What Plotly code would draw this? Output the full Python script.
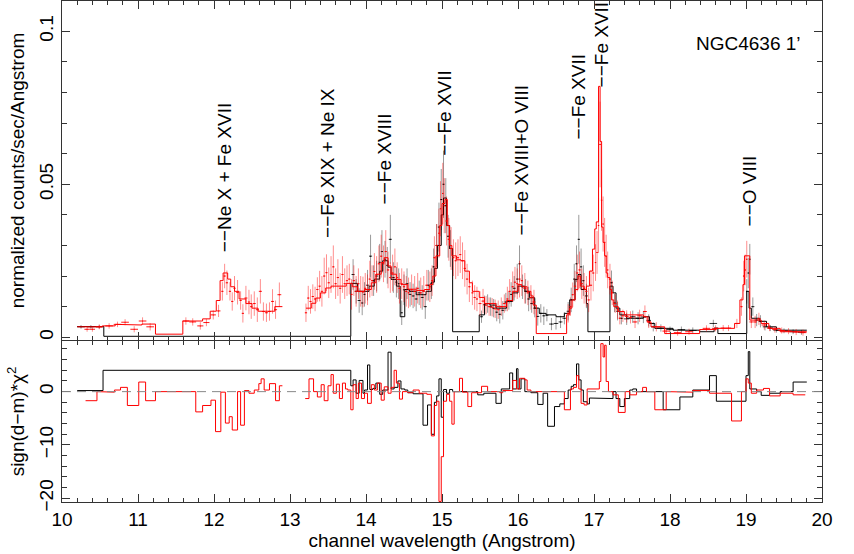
import plotly.graph_objects as go
from plotly.subplots import make_subplots

# ---- black spectrum: data points (wavelength, counts, error) ----
black_x = [10.25, 10.38, 10.49,
           13.83, 13.87, 13.91, 13.95, 13.98, 14.02, 14.06, 14.10, 14.14, 14.18,
           14.21, 14.25, 14.28, 14.32, 14.36, 14.40, 14.43, 14.47, 14.50, 14.54,
           14.58, 14.62, 14.66, 14.70, 14.74, 14.78, 14.82, 14.86, 14.89, 14.93,
           14.96, 14.99, 15.02, 15.05, 15.08, 15.11,
           15.52, 15.56, 15.60, 15.64, 15.68, 15.72, 15.76, 15.80, 15.84, 15.88,
           15.91, 15.95, 15.99, 16.02, 16.06, 16.10, 16.14, 16.18, 16.22, 16.26,
           16.30, 16.34, 16.38, 16.44, 16.50, 16.56, 16.61, 16.66, 16.70, 16.74,
           16.77, 16.80, 16.83, 16.86, 16.90,
           17.23, 17.27, 17.31, 17.36, 17.43, 17.51, 17.58, 17.65, 17.72, 17.78,
           17.88, 18.00, 18.15, 18.30, 18.57,
           19.01, 19.03, 19.05, 19.09, 19.14, 19.19, 19.25, 19.32, 19.40, 19.50,
           19.62, 19.73]
black_y = [0.0034, 0.0034, 0.0034,
           0.0205, 0.0150, 0.0120, 0.0112, 0.0140, 0.0170, 0.0265, 0.0185, 0.0200, 0.0245,
           0.0280, 0.0255, 0.0235, 0.0320, 0.0195, 0.0180, 0.0175, 0.0080, 0.0155, 0.0175,
           0.0140, 0.0135, 0.0125, 0.0145, 0.0130, 0.0100, 0.0170, 0.0175, 0.0230, 0.0300,
           0.0360, 0.0450, 0.0500, 0.0430, 0.0330, 0.0290,
           0.0067, 0.0106, 0.0110, 0.0100, 0.0095, 0.0082, 0.0075, 0.0088, 0.0115, 0.0120,
           0.0140, 0.0160, 0.0190, 0.0240, 0.0165, 0.0150, 0.0125, 0.0110, 0.0095, 0.0068,
           0.0078, 0.0070, 0.0072, 0.0043, 0.0045, 0.0050, 0.0062, 0.0085, 0.0122, 0.0190,
           0.0240, 0.0320, 0.0230, 0.0185, 0.0135,
           0.0178, 0.0112, 0.0085, 0.0062, 0.0060, 0.0067, 0.0062, 0.0066, 0.0055, 0.0034,
           0.0030, 0.0025, 0.0025, 0.0022, 0.0045,
           0.0150, 0.0210, 0.0255, 0.0100, 0.0056, 0.0052, 0.0034, 0.0030, 0.0023, 0.0021,
           0.0018, 0.0016]
black_err = [0.0006, 0.0006, 0.0006,
             0.005, 0.004, 0.004, 0.004, 0.004, 0.005, 0.007, 0.005, 0.005, 0.006,
             0.007, 0.006, 0.006, 0.008, 0.005, 0.005, 0.005, 0.004, 0.005, 0.005,
             0.004, 0.004, 0.004, 0.004, 0.004, 0.004, 0.005, 0.005, 0.006, 0.007,
             0.008, 0.010, 0.011, 0.009, 0.007, 0.006,
             0.002, 0.003, 0.003, 0.003, 0.003, 0.003, 0.003, 0.003, 0.003, 0.003,
             0.004, 0.004, 0.005, 0.006, 0.004, 0.004, 0.004, 0.003, 0.003, 0.003,
             0.003, 0.003, 0.002, 0.002, 0.002, 0.002, 0.002, 0.003, 0.004, 0.005,
             0.006, 0.008, 0.006, 0.005, 0.004,
             0.004, 0.003, 0.003, 0.002, 0.002, 0.002, 0.002, 0.002, 0.002, 0.0015,
             0.0012, 0.0010, 0.0010, 0.0010, 0.0012,
             0.004, 0.005, 0.005, 0.003, 0.002, 0.002, 0.0012, 0.0010, 0.0008, 0.0008,
             0.0008, 0.0008]

# ---- red spectrum: data points ----
red_x = [10.33, 10.40, 10.49, 10.62, 10.73, 10.83, 10.95, 11.06, 11.16,
         11.63, 11.72, 11.82, 11.90, 11.99, 12.06, 12.11, 12.14, 12.17, 12.21,
         12.24, 12.27, 12.31, 12.35, 12.38, 12.42, 12.46, 12.49, 12.53, 12.57,
         12.61, 12.65, 12.69, 12.73, 12.77, 12.81, 12.86,
         13.21, 13.24, 13.27, 13.30, 13.33, 13.36, 13.39, 13.42, 13.45, 13.48,
         13.51, 13.54, 13.57, 13.60, 13.63, 13.66, 13.69, 13.72, 13.75, 13.78,
         13.81, 13.84, 13.87, 13.90, 13.93, 13.96, 13.99, 14.02, 14.05, 14.08,
         14.11, 14.14, 14.17, 14.20, 14.23, 14.26, 14.29, 14.32, 14.35, 14.38,
         14.41, 14.44, 14.47, 14.50, 14.53, 14.56, 14.60, 14.64, 14.68, 14.72,
         14.76, 14.80, 14.84, 14.87, 14.90, 14.93, 14.96, 14.98, 15.01, 15.03,
         15.06, 15.09, 15.12, 15.15, 15.18, 15.21, 15.24, 15.27, 15.30, 15.33,
         15.36, 15.40, 15.43, 15.46, 15.50, 15.54, 15.58, 15.62, 15.66, 15.70,
         15.74, 15.78, 15.82, 15.86, 15.89, 15.93, 15.96, 15.99, 16.02, 16.05,
         16.09, 16.13, 16.17, 16.21,
         16.66, 16.69, 16.72, 16.75, 16.78, 16.81, 16.84, 16.87, 16.90, 16.93,
         16.96, 16.99, 17.02, 17.04, 17.06, 17.08, 17.10, 17.12, 17.14, 17.16,
         17.18, 17.21, 17.24, 17.28, 17.31, 17.34, 17.38, 17.43, 17.48, 17.54,
         17.60, 17.67, 17.72, 17.82, 17.95, 18.10, 18.25, 18.48, 18.60, 18.70,
         18.77, 18.88, 18.94, 18.97, 18.99, 19.01, 19.07, 19.12, 19.17, 19.24,
         19.31, 19.38, 19.47, 19.56, 19.66, 19.75]
red_y = [0.0026, 0.0026, 0.0034, 0.0037, 0.0042, 0.0049, 0.0026, 0.0053, 0.0034,
         0.0053, 0.0050, 0.0037, 0.0048, 0.0073, 0.0086, 0.0150, 0.0200, 0.0178, 0.0150,
         0.0117, 0.0160, 0.0147, 0.0120, 0.0078, 0.0128, 0.0115, 0.0100, 0.0110, 0.0090,
         0.0150, 0.0084, 0.0080, 0.0084, 0.0117, 0.0090, 0.0139,
         0.0080, 0.0128, 0.0117, 0.0133, 0.0125, 0.0156, 0.0167, 0.0150, 0.0200, 0.0211,
         0.0178, 0.0205, 0.0230, 0.0175, 0.0195, 0.0160, 0.0205, 0.0175, 0.0185, 0.0190,
         0.0140, 0.0185, 0.0150, 0.0175, 0.0150, 0.0148, 0.0160, 0.0155, 0.0190, 0.0185,
         0.0215, 0.0205, 0.0240, 0.0265, 0.0240, 0.0280, 0.0220, 0.0195, 0.0210, 0.0230,
         0.0195, 0.0160, 0.0175, 0.0165, 0.0150, 0.0145, 0.0155, 0.0150, 0.0160, 0.0145,
         0.0150, 0.0170, 0.0165, 0.0185, 0.0260, 0.0300, 0.0340, 0.0420, 0.0470, 0.0430,
         0.0380, 0.0320, 0.0290, 0.0260, 0.0250, 0.0260, 0.0270, 0.0250, 0.0225, 0.0190,
         0.0165, 0.0145, 0.0130, 0.0125, 0.0110, 0.0118, 0.0105, 0.0100, 0.0098, 0.0093,
         0.0090, 0.0100, 0.0110, 0.0125, 0.0150, 0.0165, 0.0180, 0.0175, 0.0190, 0.0185,
         0.0160, 0.0145, 0.0130, 0.0115,
         0.0078, 0.0100, 0.0139, 0.0167, 0.0210, 0.0220, 0.0175, 0.0160, 0.0150, 0.0122,
         0.0170, 0.0210, 0.0244, 0.0277, 0.0365, 0.0630, 0.0448, 0.0370, 0.0310, 0.0265,
         0.0220, 0.0190, 0.0145, 0.0110, 0.0090, 0.0062, 0.0070, 0.0068, 0.0065, 0.0050,
         0.0070, 0.0084, 0.0050, 0.0034, 0.0020, 0.0015, 0.0018, 0.0029, 0.0029, 0.0030,
         0.0030, 0.0045, 0.0100, 0.0200, 0.0220, 0.0255, 0.0050, 0.0050, 0.0060, 0.0040,
         0.0030, 0.0025, 0.0022, 0.0020, 0.0017, 0.0015]
red_err = [0.0008, 0.0008, 0.0008, 0.0009, 0.0009, 0.0010, 0.0010, 0.0012, 0.0012,
           0.0012, 0.0012, 0.0012, 0.0012, 0.0015, 0.002, 0.003, 0.004, 0.004, 0.003,
           0.003, 0.004, 0.004, 0.003, 0.003, 0.004, 0.004, 0.004, 0.004, 0.004,
           0.004, 0.003, 0.003, 0.003, 0.004, 0.003, 0.004,
           0.003, 0.004, 0.004, 0.004, 0.004, 0.004, 0.005, 0.005, 0.006, 0.006,
           0.005, 0.006, 0.007, 0.005, 0.006, 0.005, 0.006, 0.005, 0.005, 0.005,
           0.005, 0.005, 0.005, 0.005, 0.005, 0.005, 0.005, 0.005, 0.006, 0.005,
           0.006, 0.006, 0.006, 0.007, 0.006, 0.007, 0.006, 0.005, 0.006, 0.006,
           0.005, 0.005, 0.005, 0.005, 0.005, 0.005, 0.005, 0.005, 0.005, 0.005,
           0.005, 0.005, 0.005, 0.005, 0.007, 0.007, 0.008, 0.009, 0.010, 0.009,
           0.008, 0.007, 0.007, 0.006, 0.006, 0.006, 0.006, 0.006, 0.006, 0.005,
           0.005, 0.004, 0.004, 0.004, 0.004, 0.004, 0.003, 0.003, 0.003, 0.003,
           0.003, 0.003, 0.003, 0.004, 0.004, 0.005, 0.005, 0.005, 0.006, 0.005,
           0.005, 0.004, 0.004, 0.004,
           0.003, 0.003, 0.004, 0.005, 0.006, 0.006, 0.005, 0.005, 0.005, 0.004,
           0.005, 0.006, 0.006, 0.007, 0.009, 0.014, 0.010, 0.009, 0.008, 0.007,
           0.006, 0.005, 0.004, 0.003, 0.003, 0.002, 0.002, 0.002, 0.002, 0.002,
           0.002, 0.002, 0.002, 0.0015, 0.0010, 0.0010, 0.0010, 0.0010, 0.0010, 0.0010,
           0.0010, 0.0015, 0.003, 0.005, 0.005, 0.006, 0.002, 0.002, 0.002, 0.0015,
           0.0010, 0.0010, 0.0010, 0.0010, 0.0010, 0.0010]

# ---- folded models (bin edges + value per bin) ----
black_model_edges = [10.20, 10.55, 13.80, 13.89, 14.04, 14.11, 14.18, 14.22, 14.29, 14.33,
                     14.40, 14.45, 14.51, 14.57, 14.66, 14.79, 14.86, 14.90, 14.94, 14.99,
                     15.02, 15.06, 15.10, 15.14, 15.49, 15.56, 15.63, 15.71, 15.85, 15.93,
                     16.00, 16.09, 16.15, 16.22, 16.28, 16.37, 16.50, 16.61, 16.68, 16.75,
                     16.79, 16.83, 16.90, 16.92, 17.21, 17.25, 17.29, 17.34, 17.43, 17.65,
                     17.73, 17.80, 18.04, 18.39, 18.58, 18.63, 19.01, 19.04, 19.07, 19.18,
                     19.27, 19.40, 19.80]
black_model = [0.0035, 0.0003, 0.0176, 0.0150, 0.0167, 0.0190, 0.0216, 0.0250, 0.0229, 0.0189,
               0.0167, 0.0067, 0.0156, 0.0150, 0.0139, 0.0150, 0.0180, 0.0225, 0.0300, 0.0400,
               0.0455, 0.0365, 0.0290, 0.0018, 0.0073, 0.0110, 0.0105, 0.0095, 0.0117, 0.0145,
               0.0167, 0.0150, 0.0129, 0.0095, 0.0078, 0.0073, 0.0067, 0.0078, 0.0122, 0.0189,
               0.0205, 0.0156, 0.0110, 0.0018, 0.0167, 0.0145, 0.0095, 0.0073, 0.0062, 0.0067,
               0.0045, 0.0029, 0.0023, 0.0018, 0.0030, 0.0012, 0.0150, 0.0095, 0.0062, 0.0052,
               0.0034, 0.0023]

red_model_edges = [10.20, 10.53, 10.70, 10.90, 11.05, 11.23, 11.59, 11.85, 11.95, 12.03,
                   12.08, 12.12, 12.18, 12.22, 12.27, 12.33, 12.42, 12.50, 12.58, 12.80,
                   12.90, 13.21, 13.28, 13.34, 13.40, 13.47, 13.54, 13.74, 13.82, 13.89,
                   13.98, 14.07, 14.13, 14.20, 14.24, 14.29, 14.33, 14.40, 14.46, 14.55,
                   14.66, 14.77, 14.84, 14.88, 14.92, 14.97, 15.00, 15.04, 15.07, 15.10,
                   15.13, 15.19, 15.25, 15.30, 15.36, 15.40, 15.49, 15.56, 15.71, 15.85,
                   15.93, 16.00, 16.05, 16.12, 16.17, 16.20, 16.24, 16.64, 16.68, 16.71,
                   16.75, 16.79, 16.82, 16.87, 16.90, 16.94, 16.98, 17.01, 17.03, 17.06,
                   17.08, 17.10, 17.12, 17.14, 17.16, 17.18, 17.21, 17.23, 17.26, 17.32,
                   17.40, 17.65, 17.70, 17.75, 17.93, 18.39, 18.61, 18.85, 18.92, 18.96,
                   18.98, 19.05, 19.20, 19.30, 19.45, 19.80]
red_model = [0.0034, 0.0037, 0.0042, 0.0040, 0.0043, 0.0010, 0.0053, 0.0060, 0.0085, 0.0120,
             0.0185, 0.0210, 0.0190, 0.0165, 0.0150, 0.0125, 0.0110, 0.0095, 0.0085, 0.0100,
             None, 0.0095, 0.0111, 0.0128, 0.0145, 0.0161, 0.0167, 0.0176, 0.0165, 0.0150,
             0.0156, 0.0178, 0.0206, 0.0244, 0.0260, 0.0233, 0.0206, 0.0189, 0.0172, 0.0157,
             0.0153, 0.0156, 0.0172, 0.0200, 0.0266, 0.0365, 0.0437, 0.0450, 0.0365, 0.0300,
             0.0266, 0.0253, 0.0250, 0.0216, 0.0178, 0.0150, 0.0130, 0.0110, 0.0100, 0.0120,
             0.0150, 0.0172, 0.0165, 0.0150, 0.0135, 0.0105, 0.0012, 0.0073, 0.0095, 0.0122,
             0.0156, 0.0200, 0.0167, 0.0156, 0.0167, 0.0216, 0.0288, 0.0354, 0.0377, 0.0820,
             0.0640, 0.0360, 0.0310, 0.0266, 0.0210, 0.0195, 0.0156, 0.0122, 0.0100, 0.0084,
             0.0073, 0.0067, 0.0050, 0.0034, 0.0012, 0.0025, 0.0029, 0.0045, 0.0122, 0.0172,
             0.0266, 0.0056, 0.0045, 0.0029, 0.0018]

# ---- residuals sign(d-m)*chi^2 (bin edges + value per bin) ----
black_res_edges = [10.20, 10.54, 13.80, 13.83, 13.87, 13.91, 13.96, 13.98, 14.02, 14.05,
                   14.09, 14.13, 14.18, 14.22, 14.29, 14.33, 14.37, 14.42, 14.46, 14.51,
                   14.55, 14.62, 14.68, 14.75, 14.81, 14.86, 14.90, 14.93, 14.96, 14.99,
                   15.02, 15.06, 15.10, 15.14, 15.47, 15.55, 15.71, 15.78, 15.89, 15.93,
                   15.98, 16.00, 16.04, 16.09, 16.17, 16.26, 16.33, 16.39, 16.48, 16.55,
                   16.61, 16.66, 16.70, 16.73, 16.77, 16.80, 16.83, 16.86, 16.91, 16.94,
                   16.99, 17.25, 17.29, 17.34, 17.40, 17.47, 17.51, 17.56, 17.91, 18.13,
                   18.30, 18.52, 18.61, 19.00, 19.03, 19.05, 19.14, 19.20, 19.31, 19.45,
                   19.62, 19.80]
black_res = [0.2, 4.0, 1.1, 2.2, -0.3, 2.1, -0.3, 0.3, 5.0, 0.4,
             0.6, 1.6, -0.5, 0.3, 7.4, 0.5, 0.8, 2.0, 0.5, 0.3,
             -0.2, -0.4, -0.4, -6.3, -2.5, -8.0, -2.0, -0.8, 2.4, -4.8,
             0.4, -0.3, 0.4, 0.0, -0.6, -0.3, -2.2, 0.5, 3.5, 0.5,
             4.3, 0.5, 2.4, 0.0, -0.2, -2.4, -0.3, -6.5, -2.8, -2.3,
             -1.3, 0.3, 1.0, 1.3, 5.2, 2.2, 0.3, -1.9, -2.3, -1.2,
             -1.3, 0.0, -1.3, -2.8, -1.3, 0.3, 0.5, 0.0, -3.4, -1.0,
             0.3, 3.0, -1.8, 3.0, 7.5, 0.5, 0.0, -0.7, -0.3, 0.0,
             1.8]

red_res_edges = [10.31, 10.46, 10.54, 10.69, 10.77, 10.86, 11.01, 11.10, 11.23, 11.76,
                 11.85, 11.96, 12.02, 12.09, 12.15, 12.20, 12.24, 12.31, 12.35, 12.40,
                 12.46, 12.53, 12.59, 12.62, 12.66, 12.73, 12.81, 12.86, 12.90, 13.20,
                 13.25, 13.31, 13.36, 13.41, 13.45, 13.50, 13.54, 13.57, 13.61, 13.65,
                 13.69, 13.73, 13.76, 13.80, 13.83, 13.87, 13.90, 13.94, 13.98, 14.02,
                 14.07, 14.11, 14.15, 14.20, 14.24, 14.29, 14.33, 14.37, 14.40, 14.44,
                 14.48, 14.55, 14.62, 14.70, 14.80, 14.86, 14.90, 14.93, 14.96, 14.99,
                 15.02, 15.06, 15.10, 15.13, 15.16, 15.23, 15.27, 15.34, 15.39, 15.52,
                 15.60, 15.76, 15.80, 15.93, 15.98, 16.02, 16.09, 16.12, 16.17, 16.61,
                 16.69, 16.73, 16.77, 16.80, 16.83, 16.87, 16.91, 17.07, 17.09, 17.12,
                 17.14, 17.16, 17.19, 17.25, 17.32, 17.41, 17.47, 17.56, 17.64, 17.69,
                 17.80, 17.95, 18.13, 18.30, 18.52, 18.81, 18.94, 19.00, 19.03, 19.07,
                 19.14, 19.23, 19.31, 19.45, 19.62, 19.78]
red_res = [-1.7, 0.0, -0.1, 0.3, 0.8, -2.6, 1.8, -1.7, 0.0, -3.8,
           -2.6, -1.6, -7.5, -0.1, -5.9, -4.7, -7.2, 0.0, -6.3, 0.2,
           -0.3, 0.3, 1.5, 2.4, 0.3, 1.5, -1.7, 1.1, None, -1.3,
           2.4, 0.0, -1.0, 1.3, -1.7, 1.1, 3.2, -0.3, 1.4, -1.3,
           1.6, 0.5, 0.3, -3.4, 1.3, -1.3, 1.6, -1.3, -0.3, -2.2,
           1.3, 0.3, 1.6, -1.6, 0.9, -0.3, 0.8, 4.0, 1.6, -1.4,
           0.0, -0.2, 0.3, -0.3, -0.5, -8.3, -2.6, -1.8, -20.6, -12.2,
           -1.8, -0.5, -1.8, -6.1, 0.0, 2.5, -0.1, -2.8, -0.2, 1.0,
           0.0, -0.2, 0.2, 2.1, 0.5, 2.5, 2.2, 0.3, 0.0, -3.4,
           0.5, 0.8, 3.0, 0.5, -2.2, -2.5, 0.5, 1.9, 9.0, 6.5,
           8.7, 1.9, 0.0, -0.6, -3.9, 0.0, -0.6, 0.0, 0.8, 0.0,
           -3.4, 0.0, -0.1, 0.2, -0.3, -5.5, 0.0, 2.4, 1.6, -0.3,
           0.3, 0.6, -0.8, -0.3, -0.6]

# ---- line identifications ----
line_labels = ["Ne X + Fe XVII", "Fe XIX + Ne IX", "Fe XVIII", "Fe XVII",
               "Fe XVIII+O VIII", "Fe XVII", "Fe XVII", "O VIII"]
line_wave = [12.14, 13.49, 14.24, 15.04, 16.04, 16.79, 17.10, 19.05]
line_label_y = [0.0275, 0.0322, 0.0430, 0.0590, 0.0328, 0.0643, 0.0812, 0.0360]

for xs, ys, es in [(black_x, black_y, black_err), (red_x, red_y, red_err)]:
    assert len(xs) == len(ys) == len(es)
for e, v in [(black_model_edges, black_model), (red_model_edges, red_model),
             (black_res_edges, black_res), (red_res_edges, red_res)]:
    assert len(e) == len(v) + 1, (len(e), len(v))


def half_widths(xs):
    # half bin width from the spacing of neighbouring channels
    out = []
    for i, x in enumerate(xs):
        gaps = []
        if i > 0:
            gaps.append(x - xs[i - 1])
        if i < len(xs) - 1:
            gaps.append(xs[i + 1] - x)
        out.append(min(0.05, 0.5 * min(gaps)))
    return out


def steps(edges, vals):
    xs, ys = [], []
    for a, b, v in zip(edges[:-1], edges[1:], vals):
        if v is None:
            xs.append(None)
            ys.append(None)
        else:
            xs += [a, b]
            ys += [v, v]
    return xs, ys


FONT = "Liberation Sans, Arial, Helvetica, sans-serif"
AX = "#333333"

fig = make_subplots(rows=2, cols=1, shared_xaxes=True, vertical_spacing=0.0)

colors = {"black": ("#000000", "rgba(0,0,0,0.8)", "rgba(0,0,0,0.4)"),
          "red": ("#ff0000", "rgba(255,0,0,0.9)", "rgba(255,0,0,0.45)")}

for name, xs, ys, es, me, mv, re_, rv in [
        ("black", black_x, black_y, black_err, black_model_edges, black_model,
         black_res_edges, black_res),
        ("red", red_x, red_y, red_err, red_model_edges, red_model,
         red_res_edges, red_res)]:
    c, cx, cy = colors[name]
    fig.add_trace(go.Scatter(
        x=xs, y=ys, mode="markers", marker=dict(size=1, color=c),
        error_x=dict(type="data", array=half_widths(xs), color=cx, thickness=1, width=0),
        error_y=dict(type="data", array=es, color=cy, thickness=1, width=0),
        showlegend=False, hoverinfo="skip"), row=1, col=1)
    sx, sy = steps(me, mv)
    fig.add_trace(go.Scatter(x=sx, y=sy, mode="lines", line=dict(color=c, width=1),
                             showlegend=False, hoverinfo="skip"), row=1, col=1)
    rx_, ry_ = steps(re_, rv)
    fig.add_trace(go.Scatter(x=rx_, y=ry_, mode="lines", line=dict(color=c, width=1),
                             showlegend=False, hoverinfo="skip"), row=2, col=1)

fig.add_hline(y=0, row=2, col=1, line=dict(color="#888888", width=1, dash="9px,6px"))

axis_common = dict(showline=True, linecolor=AX, linewidth=1, mirror="ticks",
                   ticks="inside", tickcolor=AX, ticklen=8, tickwidth=1,
                   showgrid=False, zeroline=False,
                   tickfont=dict(family=FONT, size=19, color="black"))

fig.update_xaxes(range=[10, 20], tick0=10, dtick=1,
                 minor=dict(ticks="inside", dtick=0.2, ticklen=4, tickcolor=AX),
                 **axis_common)
fig.update_xaxes(showticklabels=False, row=1, col=1)
fig.update_xaxes(showticklabels=True, row=2, col=1,
                 title=dict(text="channel wavelength (Angstrom)", standoff=4,
                            font=dict(family=FONT, size=19, color="black")))

fig.update_yaxes(range=[-0.0009, 0.1099], tick0=0, dtick=0.05, tickangle=-90,
                 minor=dict(ticks="inside", dtick=0.01, ticklen=5, tickcolor=AX),
                 title=dict(text="normalized counts/sec/Angstrom", standoff=6,
                            font=dict(family=FONT, size=19, color="black")),
                 row=1, col=1, **axis_common)
fig.update_yaxes(range=[-20.7, 9.5], tick0=0, dtick=10, tickangle=-90,
                 minor=dict(ticks="inside", dtick=2, ticklen=5, tickcolor=AX),
                 title=dict(text="sign(d\u2212m)*\u03c7<sup>2</sup>", standoff=6,
                            font=dict(family=FONT, size=19, color="black")),
                 row=2, col=1, **axis_common)

for lab, wx, wy in zip(line_labels, line_wave, line_label_y):
    fig.add_annotation(x=wx, y=wy, xref="x", yref="y", text="\u2212\u2212" + lab,
                       textangle=-90, showarrow=False, xanchor="center", yanchor="bottom",
                       borderpad=0, font=dict(family=FONT, size=19, color="black"))

fig.add_annotation(x=19.03, y=0.096, xref="x", yref="y", text="NGC4636 1\u2019",
                   showarrow=False, xanchor="center", yanchor="middle",
                   font=dict(family=FONT, size=19, color="black"))

fig.update_layout(
    width=854, height=554,
    margin=dict(l=62, r=32, t=1, b=52),
    paper_bgcolor="white", plot_bgcolor="white",
    yaxis=dict(domain=[0.3234, 1.0]),
    yaxis2=dict(domain=[0.0, 0.3214]),
    showlegend=False,
)

fig.write_html("out.html", config={"displayModeBar": False},
               post_script="document.body.style.margin='0';")
